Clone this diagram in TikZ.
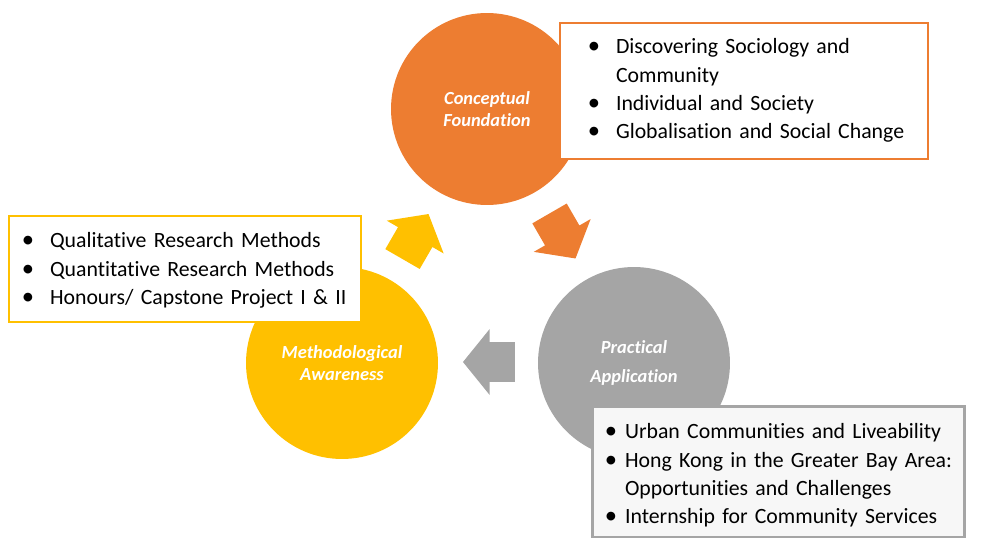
\documentclass[tikz,border=0pt]{standalone}
\usepackage{fontspec}
\setmainfont{Carlito}[Ligatures=NoCommon]
\usepackage{enumitem}
\usetikzlibrary{shapes.arrows,positioning}

\definecolor{corange}{HTML}{ED7D31}
\definecolor{cyellow}{HTML}{FFC000}
\definecolor{cgray}{HTML}{A5A5A5}
\definecolor{boxgray}{HTML}{F7F7F7}

\setlist[itemize]{nosep, label={\fontsize{14}{14}\selectfont\textbullet}}

\begin{document}
\begin{tikzpicture}[x=0.02cm, y=-0.02cm,
  pillar/.style={circle, minimum size=3.84cm, inner sep=0pt, align=center, text=white, font=\fontsize{10.5}{12.6}\selectfont\bfseries\itshape},
  listbox/.style={draw, line width=1.1pt, fill=white, inner sep=0pt, font=\fontsize{12.4}{16.1}\selectfont},
  turn/.style={single arrow, single arrow head extend=0.26cm, single arrow tip angle=102, minimum height=1.04cm, inner xsep=0pt, inner ysep=0.39cm},
]
\useasboundingbox (0,0) rectangle (985,555);

% === Circles ===
\node[pillar, fill=corange] (concept) at (487,109) {Conceptual\\Foundation};
\node[pillar, fill=cyellow] (method) at (342,363) {Methodological\\Awareness};
\node[pillar, fill=cgray] (practice) at (634,363) {Practical\\[4pt]Application};

% === Course lists ===
\node[listbox, draw=corange, minimum width=7.36cm, minimum height=2.72cm, text width=7.36cm]
  (conceptlist) at (744,91) {\raggedright
  \begin{itemize}[leftmargin=1.12cm, labelsep=0.32cm]
  \item Discovering Sociology and\\ Community
  \item Individual and Society
  \item Globalisation and Social Change
  \end{itemize}\par\kern0.28cm};

\node[listbox, draw=cyellow, minimum width=7.04cm, minimum height=2.12cm, text width=7.04cm]
  (methodlist) at (185,269) {\raggedright
  \begin{itemize}[leftmargin=0.82cm, labelsep=0.32cm]
  \item Qualitative Research Methods
  \item Quantitative Research Methods
  \item Honours/ Capstone Project I \& II
  \end{itemize}\par\kern0.2cm};

\node[listbox, draw=cgray, fill=boxgray, line width=1.7pt, minimum width=7.46cm, minimum height=2.62cm, text width=7.46cm]
  (practicelist) at (778.5,471.5) {\raggedright
  \begin{itemize}[leftmargin=0.66cm, labelsep=0.16cm]
  \item Urban Communities and Liveability
  \item Hong Kong in the Greater Bay Area:\\ Opportunities and Challenges
  \item Internship for Community Services
  \end{itemize}\par\kern0.1cm};

% === Cycle arrows ===
\node[turn, fill=cyellow, rotate=60] (up) at (411.5,243.5) {};
\node[turn, fill=corange, rotate=-60] (down) at (558.5,229) {};
\node[turn, fill=cgray, rotate=180] (back) at (497,362) {};

\end{tikzpicture}
\end{document}
